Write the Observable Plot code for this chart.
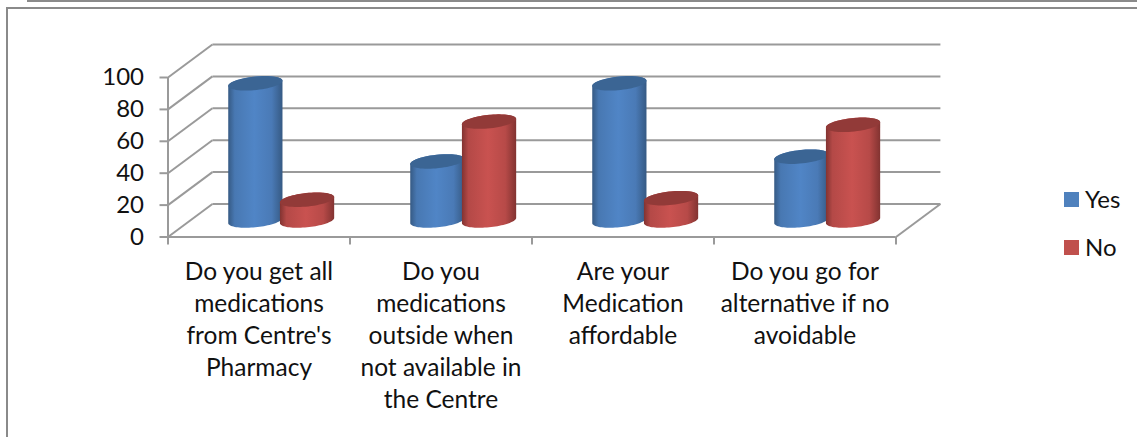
<!DOCTYPE html>
<html>
<head>
<meta charset="utf-8">
<script src="https://cdn.jsdelivr.net/npm/d3@7"></script>
<script src="https://cdn.jsdelivr.net/npm/@observablehq/plot@0.6"></script>
<style>
  html, body { margin: 0; padding: 0; background: #fff; }
  body { width: 1137px; height: 437px; position: relative; overflow: hidden; font-family: Lato, "Open Sans", sans-serif; }
  .rule-top { position: absolute; left: 27px; right: 0; top: 0; height: 2px; background: #8a8a8a; }
  .frame { position: absolute; left: 6px; top: 7px; right: -4px; bottom: -4px; border: 2px solid #8a8a8a; }
  #chart { position: absolute; left: 0; top: 0; }
  .legend { position: absolute; left: 1064px; font-size: 24px; line-height: 26px; color: #111; display: flex; align-items: center; }
  .legend i { display: block; width: 15px; height: 15px; margin-right: 6px; }
</style>
</head>
<body>
<div class="rule-top"></div>
<div class="frame"></div>
<div id="chart"></div>
<div class="legend" style="top:186px"><i style="background:#4f81bd"></i>Yes</div>
<div class="legend" style="top:234px"><i style="background:#c0504d"></i>No</div>
<script>
// Survey answers, percent of respondents per question
const questions = [
  "Do you get all\nmedications\nfrom Centre's\nPharmacy",
  "Do you\nmedications\noutside when\nnot available in\nthe Centre",
  "Are your\nMedication\naffordable",
  "Do you go for\nalternative if no\navoidable"
];
const yesValues = [86, 37, 86, 40];
const noValues = [13, 62, 14, 60];
const yTicks = [0, 20, 40, 60, 80, 100];

// Oblique depth of the chart box, in scale units
const depthX = 0.244;
const depthY = 20.7;
// Cylinder shape: radius along x, radius along depth, offset from the slot centre
const radius = 0.139;
const depthRadius = 0.22;
const offset = 0.142;

const GRID = "#9a9a9a";

// A point on a circle lying in the plane of height v
const centreX = (i, side) => i + 0.5 + side * offset + depthX / 2;
const centreY = v => v + depthY / 2;
const ring = (i, side, v, t) => ({
  x: centreX(i, side) + radius * Math.cos(t) + depthRadius * depthX * Math.sin(t),
  y: centreY(v) + depthRadius * depthY * Math.sin(t)
});
// Angle where the circle reaches its rightmost on-screen extent
const t0 = Math.atan2(depthRadius * depthX, radius);
const steps = d3.range(0, 41).map(k => k / 40);
const body = (i, side, v) => [
  ...steps.map(s => ring(i, side, 0, t0 - s * Math.PI)),
  ...steps.map(s => ring(i, side, v, t0 - Math.PI - s * Math.PI))
];
const cap = (i, side, v) => d3.range(0, 61).map(k => ring(i, side, v, k / 60 * 2 * Math.PI));

// Side shading for the round surfaces
const gradient = (id, edge, mid) => `
  <linearGradient id="${id}" x1="0" x2="1" y1="0" y2="0">
    <stop offset="0" stop-color="${edge}"/>
    <stop offset="0.12" stop-color="${d3.interpolateRgb(edge, mid)(0.7)}"/>
    <stop offset="0.48" stop-color="${mid}"/>
    <stop offset="0.8" stop-color="${d3.interpolateRgb(edge, mid)(0.75)}"/>
    <stop offset="1" stop-color="${edge}"/>
  </linearGradient>`;
const defs = () => {
  const g = document.createElementNS("http://www.w3.org/2000/svg", "defs");
  g.innerHTML = gradient("blueSide", "#365a84", "#5085c6") + gradient("redSide", "#823331", "#c95250");
  return g;
};

const cylinder = (i, side, v, sideFill, capFill) => [
  Plot.line(body(i, side, v), {x: "x", y: "y", fill: sideFill, stroke: null, curve: "linear"}),
  Plot.line(cap(i, side, v), {x: "x", y: "y", fill: capFill, stroke: null, curve: "linear"})
];

const chart = Plot.plot({
  width: 1137,
  height: 437,
  marginLeft: 167.5,
  marginRight: 241.5,
  marginTop: 77,
  marginBottom: 200.5,
  style: {background: "transparent", fontFamily: "Lato, 'Open Sans', sans-serif", fontSize: "24px", color: "#111"},
  x: {domain: [0, 4]},
  y: {domain: [0, 100]},
  marks: [
    defs,
    // Box: back wall gridlines, left wall diagonals, floor edges
    Plot.link(yTicks, {x1: depthX, x2: 4 + depthX, y1: v => v + depthY, y2: v => v + depthY, stroke: GRID, strokeWidth: 2}),
    Plot.link(yTicks, {x1: 0, x2: depthX, y1: v => v, y2: v => v + depthY, stroke: GRID, strokeWidth: 2}),
    Plot.link([4], {x1: d => d, x2: d => d + depthX, y1: 0, y2: depthY, stroke: GRID, strokeWidth: 2}),
    Plot.ruleY([0], {stroke: GRID, strokeWidth: 2}),
    Plot.ruleX([0], {stroke: GRID, strokeWidth: 2}),
    // Axes
    Plot.axisY({ticks: yTicks, tickSize: 8, tickPadding: 16, label: null, stroke: GRID, strokeWidth: 2, fill: "#111", fontSize: 24}),
    Plot.axisX({ticks: [0, 1, 2, 3, 4], tickSize: 8, tickFormat: () => "", label: null, stroke: GRID, strokeWidth: 2}),
    Plot.axisX({
      ticks: [0.5, 1.5, 2.5, 3.5],
      tickSize: 0,
      tickPadding: 20,
      tickFormat: x => questions[Math.floor(x)],
      label: null,
      fill: "#111",
      fontSize: 24.5,
      lineHeight: 1.306,
      textOverflow: null
    }),
    // Cylinders, left to right so each red one sits over its blue neighbour
    ...yesValues.flatMap((v, i) => [
      ...cylinder(i, -1, v, "url(#blueSide)", "#3b6594"),
      ...cylinder(i, 1, noValues[i], "url(#redSide)", "#923a38")
    ])
  ]
});
document.getElementById("chart").append(chart);
</script>
</body>
</html>
